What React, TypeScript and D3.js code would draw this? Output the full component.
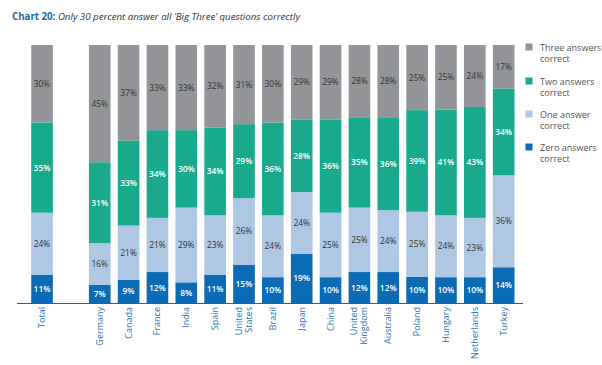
import * as d3 from 'd3';
import { useEffect, useRef } from 'react';

const categories = ['Total', '', 'Germany', 'Canada', 'France', 'India', 'Spain', 'United States', 'Brazil', 'Japan', 'China', 'United Kingdom', 'Australia', 'Poland', 'Hungary', 'Netherlands', 'Turkey'];
const zeroCorrect = [11, 0, 7, 9, 12, 8, 11, 15, 10, 19, 10, 12, 12, 10, 10, 10, 14];
const oneCorrect = [24, 0, 16, 21, 21, 29, 23, 26, 24, 24, 25, 25, 24, 25, 24, 23, 36];
const twoCorrect = [35, 0, 31, 33, 34, 30, 34, 29, 36, 28, 36, 35, 36, 39, 41, 43, 34];
const threeCorrect = [30, 0, 45, 37, 33, 33, 32, 31, 30, 29, 29, 28, 28, 25, 25, 24, 17];

const seriesKeys = ['zero', 'one', 'two', 'three'];
const seriesNames = ['Zero answers|correct', 'One answer|correct', 'Two answers|correct', 'Three answers|correct'];
const colors = ['#0b6cb5', '#adc7e4', '#19aa8d', '#939598'];
const labelColors = ['#ffffff', '#333333', '#ffffff', '#333333'];

const FONT = "'Open Sans', 'DejaVu Sans', sans-serif";

export default function App() {
    const svgRef = useRef<SVGSVGElement>(null);

    useEffect(() => {
        if (!svgRef.current) return;
        const width = 602;
        const height = 365;
        const top = 45;
        const bottom = 303;

        const svg = d3.select(svgRef.current).attr('width', width).attr('height', height);
        svg.selectAll('*').remove();

        // title
        const title = svg.append('text').attr('x', 12).attr('y', 20).attr('font-family', FONT).attr('font-size', 9.7);
        title.append('tspan').attr('fill', '#1f66a8').attr('font-weight', 'bold').text('Chart 20: ');
        title.append('tspan').attr('fill', '#333').attr('font-style', 'italic').text('Only 30 percent answer all ‘Big Three’ questions correctly');

        const rows = categories.map((c, i) => ({
            cat: c,
            zero: zeroCorrect[i],
            one: oneCorrect[i],
            two: twoCorrect[i],
            three: threeCorrect[i],
        }));
        const data = rows.filter((d) => d.cat !== '');

        const x = d3.scaleBand<string>().domain(categories).range([27.6, 518.1]).paddingInner(0.25).paddingOuter(0.125);
        const y = d3.scaleLinear().domain([0, 1]).range([bottom, top]);

        const stacked = d3.stack<any>().keys(seriesKeys).offset(d3.stackOffsetExpand)(data);

        const layers = svg
            .append('g')
            .selectAll('g')
            .data(stacked)
            .join('g')
            .attr('fill', (_, i) => colors[i]);

        layers
            .selectAll('rect')
            .data((d) => d)
            .join('rect')
            .attr('x', (d: any) => x(d.data.cat)!)
            .attr('width', x.bandwidth())
            .attr('y', (d) => y(d[1]))
            .attr('height', (d) => y(d[0]) - y(d[1]));

        // value labels
        layers.each(function (layer, li) {
            d3.select(this)
                .selectAll('text')
                .data(layer)
                .join('text')
                .attr('x', (d: any) => x(d.data.cat)! + x.bandwidth() / 2)
                .attr('y', (d) => (y(d[0]) + y(d[1])) / 2 + 3)
                .attr('text-anchor', 'middle')
                .attr('font-family', FONT)
                .attr('font-size', 8.4)
                .attr('font-weight', li % 2 === 0 ? 600 : 400)
                .attr('fill', labelColors[li])
                .text((d: any) => `${d.data[seriesKeys[li]]}%`);
        });

        // baseline
        svg.append('line').attr('x1', 17).attr('x2', 523).attr('y1', bottom + 0.5).attr('y2', bottom + 0.5).attr('stroke', '#555').attr('stroke-width', 1);

        // category labels (rotated, two-line names split into columns)
        data.forEach((d) => {
            const parts = d.cat.split(' ');
            const cx = x(d.cat)! + x.bandwidth() / 2;
            parts.forEach((p, k) => {
                const px = cx + (k - (parts.length - 1) / 2) * 10 + 3;
                svg.append('text')
                    .attr('transform', `translate(${px},307) rotate(-90)`)
                    .attr('text-anchor', 'end')
                    .attr('font-family', FONT)
                    .attr('font-size', 9)
                    .attr('fill', '#2a72b8')
                    .text(p);
            });
        });

        // legend
        const legendY = [147, 114, 81, 47];
        seriesNames.forEach((name, i) => {
            const g = svg.append('g').attr('transform', `translate(529,${legendY[i]})`);
            g.append('rect').attr('x', -3.5).attr('y', -3.5).attr('width', 7).attr('height', 7).attr('fill', colors[i]);
            name.split('|').forEach((line, k) => {
                g.append('text')
                    .attr('x', 11)
                    .attr('y', 3.5 + k * 11.5)
                    .attr('font-family', FONT)
                    .attr('font-size', 9)
                    .attr('fill', '#555')
                    .text(line);
            });
        });
    }, []);

    return <svg ref={svgRef} style={{ position: 'absolute', left: 0, top: 0, background: '#fff' }} />;
}
